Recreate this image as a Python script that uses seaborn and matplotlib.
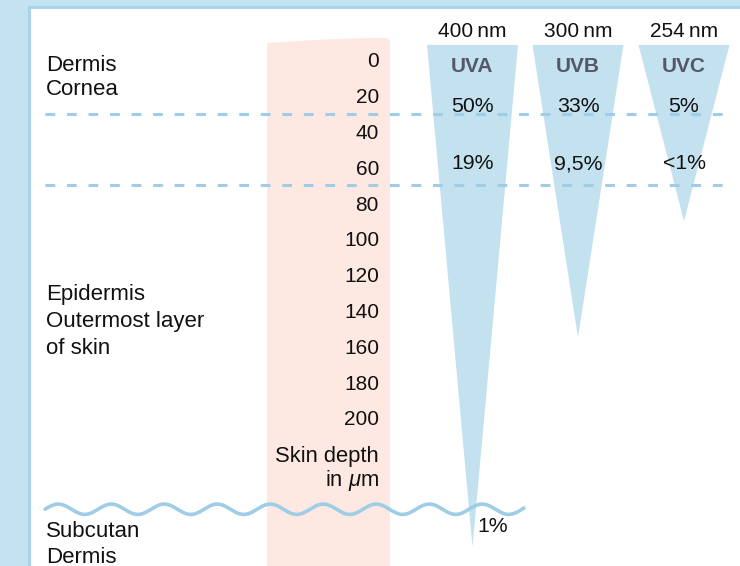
import numpy as np
import matplotlib.pyplot as plt
import seaborn as sns
from matplotlib.patches import Rectangle, Polygon

###################################################################################
# chart data (depths in micrometres)
###################################################################################
bands = ['UVA', 'UVB', 'UVC']
wavelengths = ['400\u2009nm', '300\u2009nm', '254\u2009nm']
tip_depth = [272, 155, 90]          # how deep each band reaches
pct_upper = ['50%', '33%', '5%']    # share left at the end of the cornea
pct_lower = ['19%', '9,5%', '<1%']  # share left deeper in the epidermis
pct_deep = '1%'                     # UVA reaching the subcutis
depth_ticks = [0, 20, 40, 60, 80, 100, 120, 140, 160, 180, 200]
layer_bounds = [30, 70]
subcutis_depth = 251
layer_names = [['Dermis', 'Cornea'],
               ['Epidermis', 'Outermost layer', 'of skin'],
               ['Subcutan', 'Dermis']]
layer_baselines = [[6, 19.5], [134, 149, 164], [266.5, 281]]

###################################################################################
# style
###################################################################################
sns.set_theme(style='white')
plt.rcParams['font.family'] = ['Liberation Sans', 'DejaVu Sans']
plt.rcParams['mathtext.fontset'] = 'custom'
plt.rcParams['mathtext.rm'] = 'Liberation Sans'
plt.rcParams['mathtext.it'] = 'Liberation Sans:italic'
plt.rcParams['lines.scale_dashes'] = False

frame_blue = '#c4e2ef'
edge_blue = '#a3d3ea'
tri_blue = '#c3e1ef'
line_blue = '#9ecde5'
peach = '#fde9e2'
label_grey = '#545869'
ink = '#111111'
fs = 15

fig = plt.figure(figsize=(7.4, 5.66), dpi=100, facecolor=frame_blue)
ax = fig.add_axes([0, 0, 1, 1])
ax.set_xlim(0, 740)
ax.set_ylim(282.7, -33.5)
ax.axis('off')

# white panel
ax.add_patch(Rectangle((29, -29.6), 760, 340, facecolor='white', edgecolor=edge_blue,
                       lw=2, zorder=0))

# peach skin-depth band with slightly curved top
top_x = np.linspace(267, 386, 30)
top_y = -9.5 - 2.8 * np.sin((top_x - 267) / 119 * np.pi / 2)
band_pts = list(zip(top_x, top_y)) + [(389, -11.6), (390, -10.2), (390, 300), (267, 300)]
ax.add_patch(Polygon(band_pts, closed=True, facecolor=peach, edgecolor='none', zorder=1))

# penetration wedges
centers = [472.5, 578, 684]
half_w = 45.5
top_depth = -8.4
for cx, d in zip(centers, tip_depth):
    ax.fill([cx - half_w, cx + half_w, cx], [top_depth, top_depth, d],
            color=tri_blue, lw=0, zorder=2)

# layer boundaries
for b in layer_bounds:
    ax.plot([45, 728], [b, b], color=line_blue, lw=2.2, dashes=(7, 8.5), zorder=3)

# wavy boundary to the subcutis
wave_x = np.linspace(45, 524, 400)
wave_y = subcutis_depth - 2.9 * np.sin(2 * np.pi * (wave_x - 45) / 53)
sns.lineplot(x=wave_x, y=wave_y, color=line_blue, lw=2.6, sort=False, ax=ax, zorder=4)

# depth scale
for t in depth_ticks:
    ax.text(379, t + 4.2, str(t), ha='right', va='baseline', fontsize=fs, color=ink, zorder=5)
ax.text(379, 224.5, 'Skin depth', ha='right', va='baseline', fontsize=fs + 0.8, color=ink, zorder=5)
ax.text(379, 238, r'in $\mu$m', ha='right', va='baseline', fontsize=fs + 0.8, color=ink, zorder=5)

# layer labels
for names, bases in zip(layer_names, layer_baselines):
    for name, base in zip(names, bases):
        ax.text(46, base, name, ha='left', va='baseline', fontsize=fs + 1, color=ink, zorder=5)

# band headings and percentages
for cx, wl, band, up, lo in zip(centers, wavelengths, bands, pct_upper, pct_lower):
    ax.text(cx, -13, wl, ha='center', va='baseline', fontsize=fs, color=ink, zorder=5)
    ax.text(cx, 6.5, band, ha='center', va='baseline', fontsize=fs, fontweight='bold',
            color=label_grey, zorder=5)
    ax.text(cx, 28.8, up, ha='center', va='baseline', fontsize=fs + 0.3, color=ink, zorder=5)
    ax.text(cx, 61, lo, ha='center', va='baseline', fontsize=fs + 0.3, color=ink, zorder=5)
ax.text(477, 263.5, pct_deep, ha='left', va='baseline', fontsize=fs + 0.3, color=ink, zorder=5)

plt.savefig('out.png', dpi=100, facecolor=fig.get_facecolor())
